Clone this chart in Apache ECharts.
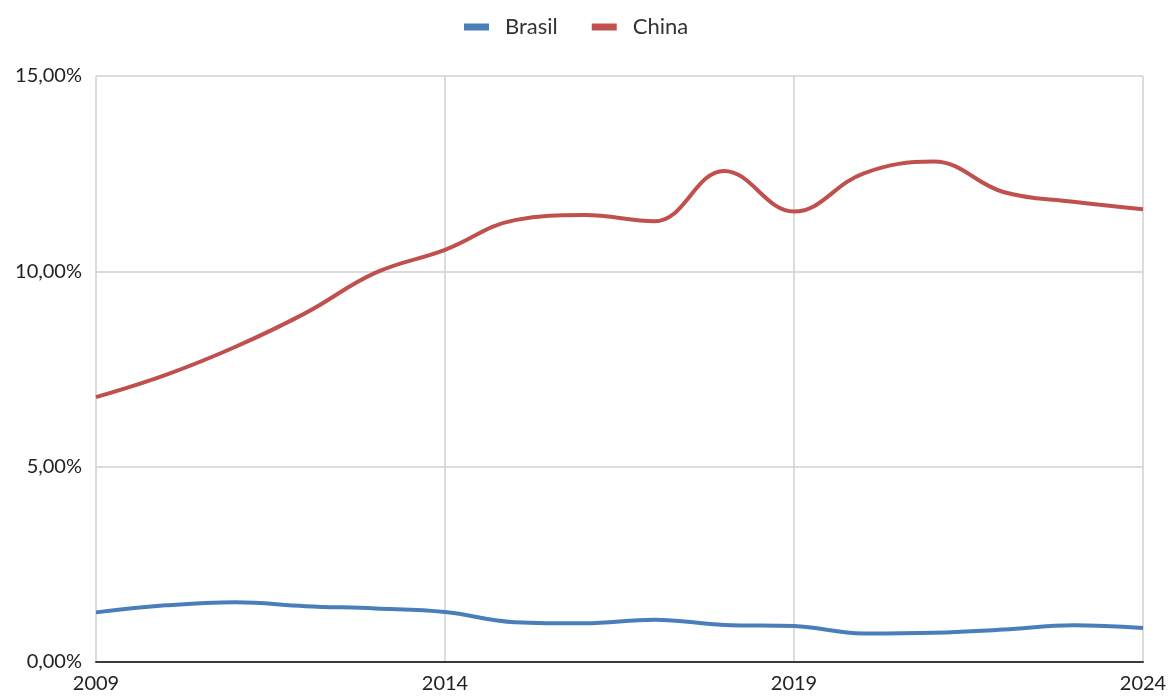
<!DOCTYPE html>
<html>
<head>
<meta charset="utf-8">
<script src="https://cdn.jsdelivr.net/npm/echarts@6/dist/echarts.min.js"></script>
<style>
html,body{margin:0;padding:0;background:#fff;}
#chart{width:1170px;height:698px;}
</style>
</head>
<body>
<div id="chart"></div>
<script>
const years = ['2009','2010','2011','2012','2013','2014','2015','2016','2017','2018','2019','2020','2021','2022','2023','2024'];
const brasil = [1.27,1.45,1.53,1.43,1.37,1.28,1.02,0.99,1.08,0.95,0.92,0.73,0.75,0.83,0.94,0.87];
const china = [6.78,7.35,8.07,8.93,9.96,10.55,11.31,11.44,11.28,12.57,11.53,12.51,12.81,12.03,11.78,11.59];
const seriesNames = ['Brasil','China'];

const chart = echarts.init(document.getElementById('chart'), null, {renderer:'canvas'});
const font = 'Lato, "Liberation Sans", sans-serif';
chart.setOption({
  animation:false,
  textStyle:{fontFamily:font},
  legend:{
    top:11, left:459,
    icon:'rect', itemWidth:25, itemHeight:7, itemGap:34,
    textStyle:{fontSize:22, color:'#333', fontFamily:font, padding:[0,0,0,11]},
    data:seriesNames
  },
  grid:{left:96, right:27, top:76, bottom:36, containLabel:false},
  xAxis:{
    type:'category', data:years, boundaryGap:false,
    axisLine:{show:true, lineStyle:{color:'#3a3a3a', width:2}},
    axisTick:{show:false},
    axisLabel:{interval:4, fontSize:20, color:'#222', margin:12, fontFamily:font},
    splitLine:{show:true, interval:4, lineStyle:{color:'#d0d0d0', width:1.5}}
  },
  yAxis:{
    type:'value', min:0, max:15, interval:5,
    axisLine:{show:false},
    axisTick:{show:false},
    axisLabel:{fontSize:20, color:'#222', margin:14, fontFamily:font,
      formatter:v=>v.toFixed(2).replace('.',',')+'%'},
    splitLine:{show:true, lineStyle:{color:'#d0d0d0', width:1.5}}
  },
  series:[
    {name:seriesNames[0], type:'line', data:brasil, smooth:0.4, showSymbol:false,
     lineStyle:{color:'#4a7ebb', width:4}, itemStyle:{color:'#4a7ebb'}},
    {name:seriesNames[1], type:'line', data:china, smooth:0.4, showSymbol:false,
     lineStyle:{color:'#c0504d', width:4}, itemStyle:{color:'#c0504d'}}
  ]
});
</script>
</body>
</html>
